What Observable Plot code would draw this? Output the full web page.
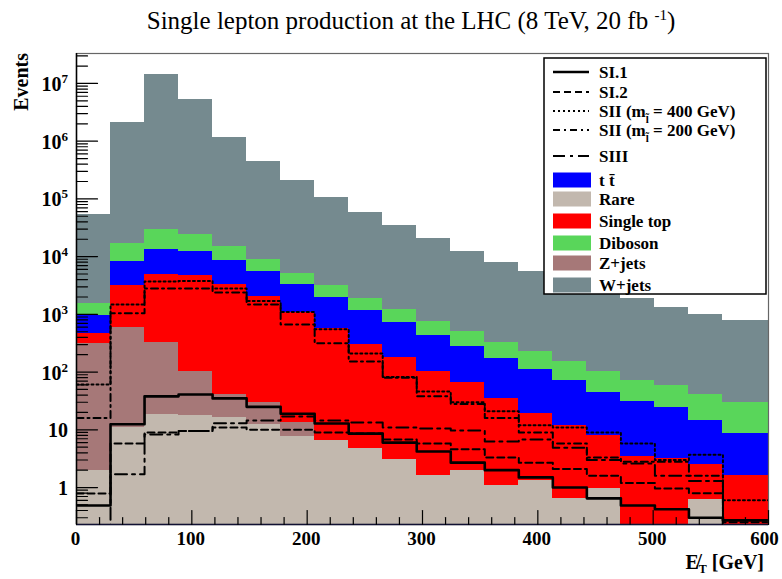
<!DOCTYPE html>
<html><head><meta charset="utf-8">
<script src="https://cdn.jsdelivr.net/npm/d3@7"></script>
<script src="https://cdn.jsdelivr.net/npm/@observablehq/plot@0.6"></script>
<style>body{margin:0;background:#fff;} #chart{width:782px;height:579px;}</style>
</head><body><div id="chart"></div>
<script>
// ---- data ----
const binEdges = [0, 29.5, 59, 88.5, 118, 147.5, 177, 206.5, 236, 265.5, 295, 324.5, 354, 383.5, 413, 442.5, 472, 501.5, 531, 560.5, 600];
const rare      = [2.0, 11, 18.5, 17.6, 16.3, 12.3, 7.6, 6.5, 4.7, 3.1, 1.6, 2.0, 1.1, 1.3, 0.65, 0.95, 0, 0, 0.62, 0];
const zjets     = [313, 579, 306, 83, 25, 18, 5.8, 0, 0, 0, 0, 0, 0, 0, 0, 0, 0, 0, 0, 0];
const singleTop = [152, 2610, 4575, 4600, 3260, 1970, 1057, 564, 295, 175, 100, 64, 34, 17.7, 11.2, 7.0, 3.45, 3.2, 1.9, 1.6];
const ttbar     = [493, 5100, 8400, 7600, 5200, 3500, 2230, 1390, 870, 542, 328, 211, 137, 92, 59, 36, 27.5, 20.8, 12, 6.9];
const diboson   = [590, 8700, 16200, 12200, 6500, 3400, 1800, 1240, 730, 480, 325, 228, 153, 117, 81, 58, 40, 35, 26.5, 21.5];
const wjets     = [52450, 2083000, 14370000, 5275000, 1155000, 441100, 204900, 103800, 57100, 33800, 20250, 11900, 7580, 5270, 3750, 2600, 1830, 1240, 960, 750];

const sI1     = [0.49, 12.5, 38, 41, 35, 25, 19, 12.9, 8.6, 6.0, 4.2, 2.7, 2.0, 1.5, 1.0, 0.65, 0.49, 0.42, 0.3, 0.27];
const sI2     = [0.79, 5.8, 9.0, 9.5, 11, 10, 10, 9, 8.6, 6.8, 5.8, 4.6, 3.3, 2.7, 2.1, 1.6, 1.2, 0.96, 0.8, 0.25];
const sII400  = [61, 1480, 3700, 3800, 2800, 1700, 1100, 550, 210, 82, 46, 30, 21, 12, 11, 9, 5.8, 3.0, 3.7, 0.6];
const sII200  = [16, 1040, 2800, 2800, 2400, 1480, 670, 315, 152, 80, 38, 28, 16, 9, 5.8, 3.3, 2.8, 2.8, 1.6, 0];
const sIII    = [0, 1.7, 8.3, 9.5, 13, 14.5, 17, 14.5, 13.4, 11, 10.5, 9.7, 6.3, 6.8, 4.9, 3.0, 2.6, 1.6, 1.3, 0];

const xTicksMajor = [0, 100, 200, 300, 400, 500, 600];
const yDecades = [0, 1, 2, 3, 4, 5, 6, 7];

const bgNames  = ["Rare", "Z+jets", "Single top", "t t\u0304", "Diboson", "W+jets"];
const bgColors = ["#c2b8ae", "#a67878", "#ff0000", "#0000ff", "#59d65a", "#758a8f"];

// ---- build tables ----
const stackOrder = [rare, zjets, singleTop, ttbar, diboson, wjets];
const nb = rare.length;
const cum = stackOrder.map((_, k) => d3.range(nb).map(i => d3.sum(stackOrder.slice(0, k + 1), s => s[i])));
const floorV = 1e-3;

const layerMarks = [];
for (let k = stackOrder.length - 1; k >= 0; k--) {
  const rows = d3.range(nb).map(i => ({x1: binEdges[i], x2: binEdges[i + 1], top: cum[k][i]})).filter(d => d.top > 0);
  layerMarks.push(Plot.rectY(rows, {x1: "x1", x2: "x2", y1: floorV, y2: "top", fill: bgColors[k], clip: true, shapeRendering: "crispEdges"}));
}

function stepPoints(vals) {
  const pts = vals.map((v, i) => ({x: binEdges[i], y: Math.max(v, floorV)}));
  pts.push({x: binEdges[nb], y: Math.max(vals[nb - 1], floorV)});
  return pts;
}
const sigSeries = [sI1, sI2, sII400, sII200, sIII];
const sigDash = [null, "7,4", "2,3", "7,4,2,4", "12,5,3,5"];
const sigWidth = [2.6, 2, 2, 2, 2];
const lineMarks = sigSeries.map((s, j) => Plot.line(stepPoints(s), {x: "x", y: "y", curve: "step-after", stroke: "black", strokeWidth: sigWidth[j], strokeDasharray: sigDash[j], clip: true}));

const xMinor = d3.range(0, 601, 20).filter(v => v % 100 !== 0);
const yMajorVals = yDecades.map(e => Math.pow(10, e));
const yMinorVals = [];
for (let e = -1; e <= 7; e++) for (let m = 2; m <= 9; m++) yMinorVals.push(m * Math.pow(10, e));

const tickUp = {draw(ctx, l) { ctx.moveTo(0, 0); ctx.lineTo(0, -l); }};
const tickRight = {draw(ctx, l) { ctx.moveTo(0, 0); ctx.lineTo(l, 0); }};

const yDomain = [0.229, 3.3e7];
const yMinorIn = yMinorVals.filter(v => v >= yDomain[0] && v <= yDomain[1]);
const labelFont = {frameAnchor: "bottom", dy: 20, fontSize: 19, fontWeight: "bold", fontFamily: "Liberation Serif, serif", fill: "black"};

const plot = Plot.plot({
  width: 782, height: 579,
  marginLeft: 76, marginRight: 14, marginTop: 53, marginBottom: 55,
  x: {domain: [0, 600], axis: null},
  y: {type: "log", domain: yDomain, axis: null},
  style: {background: "white"},
  marks: [
    ...layerMarks,
    ...lineMarks,
    Plot.frame({stroke: "#666", strokeWidth: 1.2}),
    Plot.ruleX([0], {stroke: "black", strokeWidth: 1.5}),
    Plot.ruleY([yDomain[0]], {stroke: "#111133", strokeWidth: 1.5}),
    Plot.vector(xTicksMajor, {x: d => d, frameAnchor: "bottom", length: 14, shape: tickUp, anchor: "start", stroke: "black", strokeWidth: 1.2}),
    Plot.vector(xMinor, {x: d => d, frameAnchor: "bottom", length: 7, shape: tickUp, anchor: "start", stroke: "black", strokeWidth: 1.2}),
    Plot.vector(yMajorVals, {y: d => d, frameAnchor: "left", length: 21, shape: tickRight, anchor: "start", stroke: "black", strokeWidth: 1.2}),
    Plot.vector(yMinorIn, {y: d => d, frameAnchor: "left", length: 11, shape: tickRight, anchor: "start", stroke: "black", strokeWidth: 1.2}),
    Plot.text(xTicksMajor.slice(0, -1), {x: d => d, text: d => String(d), ...labelFont, dx: -1}),
    Plot.text(xTicksMajor.slice(-1), {x: d => d, text: d => String(d), ...labelFont, dx: -4})
  ]
});
document.getElementById("chart").appendChild(plot);

// ---- extra text: y labels, titles, legend ----
const svg = d3.select(plot);
const ys = plot.scale("y");
const serif = "Liberation Serif, DejaVu Serif, serif";

yDecades.forEach(e => {
  const y = ys.apply(Math.pow(10, e));
  const t = svg.append("text").attr("x", 68).attr("y", y + 8).attr("text-anchor", "end")
    .attr("font-family", serif).attr("font-weight", "bold").attr("font-size", 20);
  if (e === 0) t.text("1");
  else if (e === 1) t.text("10");
  else { t.append("tspan").text("10"); t.append("tspan").attr("dy", -8).attr("font-size", 13).text(String(e)); }
});

svg.append("text").attr("transform", "translate(28,53) rotate(-90)").attr("text-anchor", "end")
  .attr("font-family", serif).attr("font-weight", "bold").attr("font-size", 20).text("Events");

const xt = svg.append("text").attr("x", 764).attr("y", 569).attr("text-anchor", "end")
  .attr("font-family", serif).attr("font-weight", "bold").attr("font-size", 20);
xt.append("tspan").text("E\u0338");
xt.append("tspan").attr("dy", 4).attr("font-size", 12).text("T");
xt.append("tspan").attr("dy", -4).text(" [GeV]");

const title = svg.append("text").attr("x", 411).attr("y", 29).attr("text-anchor", "middle")
  .attr("font-family", serif).attr("font-size", 25);
title.append("tspan").text("Single lepton production at the LHC (8 TeV, 20 fb ");
title.append("tspan").attr("dy", -9).attr("font-size", 15).text("-1");
title.append("tspan").attr("dy", 9).text(")");

// legend
const lg = svg.append("g");
lg.append("rect").attr("x", 544).attr("y", 58).attr("width", 222).attr("height", 236)
  .attr("fill", "white").attr("stroke", "black").attr("stroke-width", 1.5);
const rowY = [72, 92, 111, 130, 156, 180, 199, 221, 243, 263, 285];
const legendItems = [
  {type: "line", s: 0, label: ["SI.1"]},
  {type: "line", s: 1, label: ["SI.2"]},
  {type: "line", s: 2, label: ["SII (m", "l\u0303", " = 400 GeV)"]},
  {type: "line", s: 3, label: ["SII (m", "l\u0303", " = 200 GeV)"]},
  {type: "line", s: 4, label: ["SIII"]},
  {type: "box", c: 3}, {type: "box", c: 0}, {type: "box", c: 2}, {type: "box", c: 4}, {type: "box", c: 1}, {type: "box", c: 5}
];
legendItems.forEach((it, r) => {
  const y = rowY[r];
  if (it.type === "line") {
    lg.append("line").attr("x1", 553).attr("x2", 589).attr("y1", y).attr("y2", y)
      .attr("stroke", "black").attr("stroke-width", it.s === 0 ? 2.4 : 1.8)
      .attr("stroke-dasharray", sigDash[it.s]);
  } else {
    lg.append("rect").attr("x", 553).attr("y", y - 7.5).attr("width", 38).attr("height", 15).attr("fill", bgColors[it.c]);
  }
  const t = lg.append("text").attr("x", 599).attr("y", y + 6).attr("text-anchor", "start").attr("font-family", serif)
    .attr("font-weight", "bold").attr("font-size", 17);
  const lab = it.type === "line" ? it.label : [bgNames[it.c]];
  if (lab.length === 1) t.text(lab[0]);
  else {
    t.append("tspan").text(lab[0]);
    t.append("tspan").attr("dy", 6).attr("font-size", 11).text(lab[1]);
    t.append("tspan").attr("dy", -6).text(lab[2]);
  }
});
</script>
</body></html>
